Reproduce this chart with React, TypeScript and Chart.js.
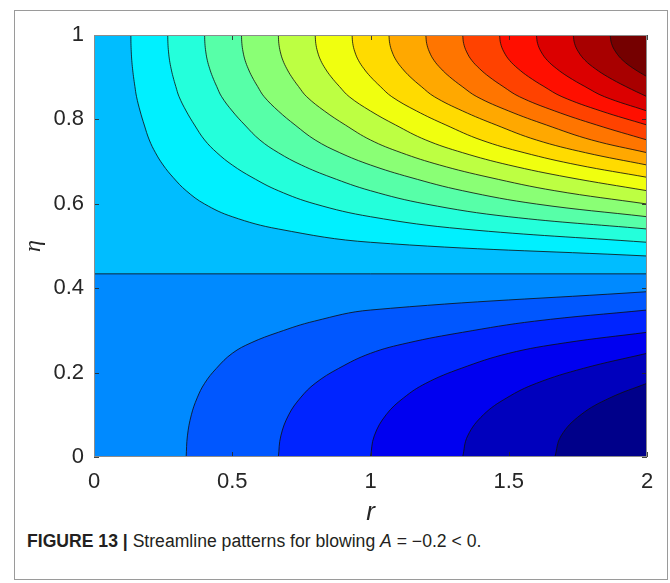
import React, { useEffect, useRef } from 'react';
import { Chart, registerables } from 'chart.js';

Chart.register(...registerables);

// ---- data ----
const xTickValues = [0, 0.5, 1, 1.5, 2];
const yTickValues = [0, 0.2, 0.4, 0.6, 0.8, 1];

// stream-function profile psi(r, eta) = r * f(eta), f
const etaProfile = [0, 0.05, 0.1, 0.14, 0.1746, 0.21, 0.2457, 0.2706, 0.2955, 0.3219, 0.3483, 0.3917, 0.434, 0.4763, 0.5088, 0.5403, 0.5694, 0.5995, 0.631, 0.6628, 0.6919, 0.7211, 0.7512, 0.7867, 0.8199, 0.8538, 0.878, 0.9012, 0.92, 0.94, 0.96, 0.98, 1.0];
const fProfile = [-3, -2.96, -2.84, -2.68, -2.5, -2.26, -2, -1.76, -1.5, -1.255, -1, -0.5, 0, 0.5, 1, 1.5, 2, 2.5, 3, 3.5, 4, 4.5, 5, 5.5, 6, 6.5, 6.76, 7, 7.17, 7.32, 7.42, 7.48, 7.5];

const separatrixEta = 0.434;
const lowerLevels = [-1, -2, -3, -4, -5];
const upperLevels = [1, 2, 3, 4, 5, 6, 7, 8, 9, 10, 11, 12, 13, 14];

// band colours, from the lowest band (psi in [-6,-5)) to the highest (psi in [14,15])
const bandColors = [
  '#00008a', '#0000bd', '#0000f0', '#0024ff', '#0057ff', '#008aff',
  '#00bdff', '#00f0ff', '#24ffdb', '#57ffa8', '#8aff75', '#bdff42',
  '#f0ff0f', '#ffdb00', '#ffa800', '#ff7500', '#ff4200', '#ff0f00',
  '#db0000', '#a80000', '#750000',
];

const R_MAX = 2;
const FONT = "'Liberation Sans', Arial, Helvetica, sans-serif";
const LINE_COLOR = 'rgba(15,15,15,0.9)';
const LINE_W = 0.9;

function contourPoints(level: number) {
  const pts: { x: number; y: number }[] = [];
  const idx = etaProfile.map((_, i) => i);
  if (level > 0) idx.reverse();
  for (const i of idx) {
    const f = fProfile[i];
    if (f === 0 || Math.sign(f) !== Math.sign(level)) break;
    const r = level / f;
    pts.push({ x: r, y: etaProfile[i] });
    if (r >= R_MAX - 1e-9) break;
  }
  return pts;
}

const axesBoxPlugin = {
  id: 'axesBox',
  afterDatasetsDraw(chart: any) {
    const { ctx, chartArea: a, scales } = chart;
    ctx.save();
    ctx.lineWidth = 1;
    ctx.strokeStyle = 'rgba(38,38,38,0.85)';
    const L = 5;
    ctx.beginPath();
    for (const v of xTickValues) {
      const px = Math.round(scales.x.getPixelForValue(v)) + 0.5;
      ctx.moveTo(px, a.bottom);
      ctx.lineTo(px, a.bottom - L);
      ctx.moveTo(px, a.top);
      ctx.lineTo(px, a.top + L);
    }
    for (const v of yTickValues) {
      const py = Math.round(scales.y.getPixelForValue(v)) + 0.5;
      ctx.moveTo(a.left, py);
      ctx.lineTo(a.left + L, py);
      ctx.moveTo(a.right, py);
      ctx.lineTo(a.right - L, py);
    }
    ctx.stroke();
    ctx.strokeStyle = '#8c8c8c';
    ctx.strokeRect(a.left + 0.5, a.top + 0.5, a.right - a.left - 1, a.bottom - a.top - 1);
    ctx.restore();
  },
};

export default function App() {
  const canvasRef = useRef<HTMLCanvasElement | null>(null);

  useEffect(() => {
    const canvas = canvasRef.current;
    if (!canvas) return;

    const drawList: any[] = [];
    // background above the separatrix
    drawList.push({
      data: [{ x: 0, y: 1 }, { x: R_MAX, y: 1 }],
      fill: 'start',
      backgroundColor: bandColors[6],
      borderWidth: 0,
      borderColor: 'transparent',
    });
    // separatrix (psi = 0) with region below it
    drawList.push({
      data: [{ x: 0, y: separatrixEta }, { x: R_MAX, y: separatrixEta }],
      fill: 'start',
      backgroundColor: bandColors[5],
      borderWidth: LINE_W,
      borderColor: LINE_COLOR,
    });
    for (const k of lowerLevels) {
      drawList.push({
        data: contourPoints(k),
        fill: 'start',
        backgroundColor: bandColors[k + 5],
        borderWidth: LINE_W,
        borderColor: LINE_COLOR,
        tension: 0.4,
      });
    }
    for (const k of upperLevels) {
      drawList.push({
        data: contourPoints(k),
        fill: 'end',
        backgroundColor: bandColors[k + 6],
        borderWidth: LINE_W,
        borderColor: LINE_COLOR,
        tension: 0.4,
      });
    }
    const n = drawList.length;
    const datasets = drawList.map((d, i) => ({
      type: 'line',
      pointRadius: 0,
      pointHoverRadius: 0,
      clip: 0,
      order: n - i,
      ...d,
    }));

    const chart = new Chart(canvas, {
      type: 'line',
      data: { datasets } as any,
      plugins: [axesBoxPlugin],
      options: {
        animation: false,
        responsive: false,
        devicePixelRatio: 1,
        events: [],
        layout: { padding: { left: 0, top: 35, right: 23, bottom: 0 } },
        elements: { line: { capBezierPoints: false } },
        plugins: {
          legend: { display: false },
          tooltip: { enabled: false },
          filler: { propagate: false },
        },
        scales: {
          x: {
            type: 'linear',
            min: 0,
            max: R_MAX,
            grid: { display: false, drawTicks: false },
            border: { display: false },
            afterBuildTicks: (s: any) => {
              s.ticks = xTickValues.map((v) => ({ value: v }));
            },
            afterFit: (s: any) => {
              s.height = 73;
              s.paddingLeft = 0;
              s.paddingRight = 0;
              s.paddingTop = 0;
              s.paddingBottom = 0;
            },
            ticks: {
              padding: 12,
              color: '#262626',
              maxRotation: 0,
              autoSkip: false,
              font: { family: FONT, size: 22 },
              callback: (v: any) => String(v),
            },
            title: {
              display: true,
              text: 'r',
              color: '#262626',
              font: { family: FONT, size: 26, style: 'italic' },
              padding: { top: 0, bottom: 2 },
            },
          },
          y: {
            type: 'linear',
            min: 0,
            max: 1,
            grid: { display: false, drawTicks: false },
            border: { display: false },
            afterBuildTicks: (s: any) => {
              s.ticks = yTickValues.map((v) => ({ value: v }));
            },
            afterFit: (s: any) => {
              s.width = 94;
              s.paddingLeft = 0;
              s.paddingRight = 0;
              s.paddingTop = 0;
              s.paddingBottom = 0;
            },
            ticks: {
              padding: 10,
              color: '#262626',
              autoSkip: false,
              font: { family: FONT, size: 22 },
              callback: (v: any) => String(v),
            },
            title: {
              display: true,
              text: 'η',
              color: '#262626',
              font: { family: "'Liberation Serif', 'Times New Roman', serif", size: 24, style: 'italic' },
              padding: { top: 19, bottom: 0 },
            },
          },
        },
      } as any,
    });
    return () => chart.destroy();
  }, []);

  return (
    <div style={{ position: 'absolute', left: 0, top: 0, width: 670, height: 583, background: '#fff' }}>
      <div
        style={{
          position: 'absolute',
          left: 14,
          top: 10,
          width: 654,
          height: 570,
          boxSizing: 'border-box',
          border: '1px solid #9a9a9a',
        }}
      />
      <canvas
        ref={canvasRef}
        width={670}
        height={530}
        style={{ position: 'absolute', left: 0, top: 0, width: 670, height: 530 }}
      />
      <div
        style={{
          position: 'absolute',
          left: 27,
          top: 532,
          fontFamily: FONT,
          fontSize: 17.6,
          lineHeight: '18px',
          color: '#231f20',
          whiteSpace: 'nowrap',
        }}
      >
        <span style={{ fontWeight: 'bold' }}>FIGURE 13 |</span> Streamline patterns for blowing{' '}
        <span style={{ fontStyle: 'italic' }}>A</span> = −0.2 &lt; 0.
      </div>
    </div>
  );
}
